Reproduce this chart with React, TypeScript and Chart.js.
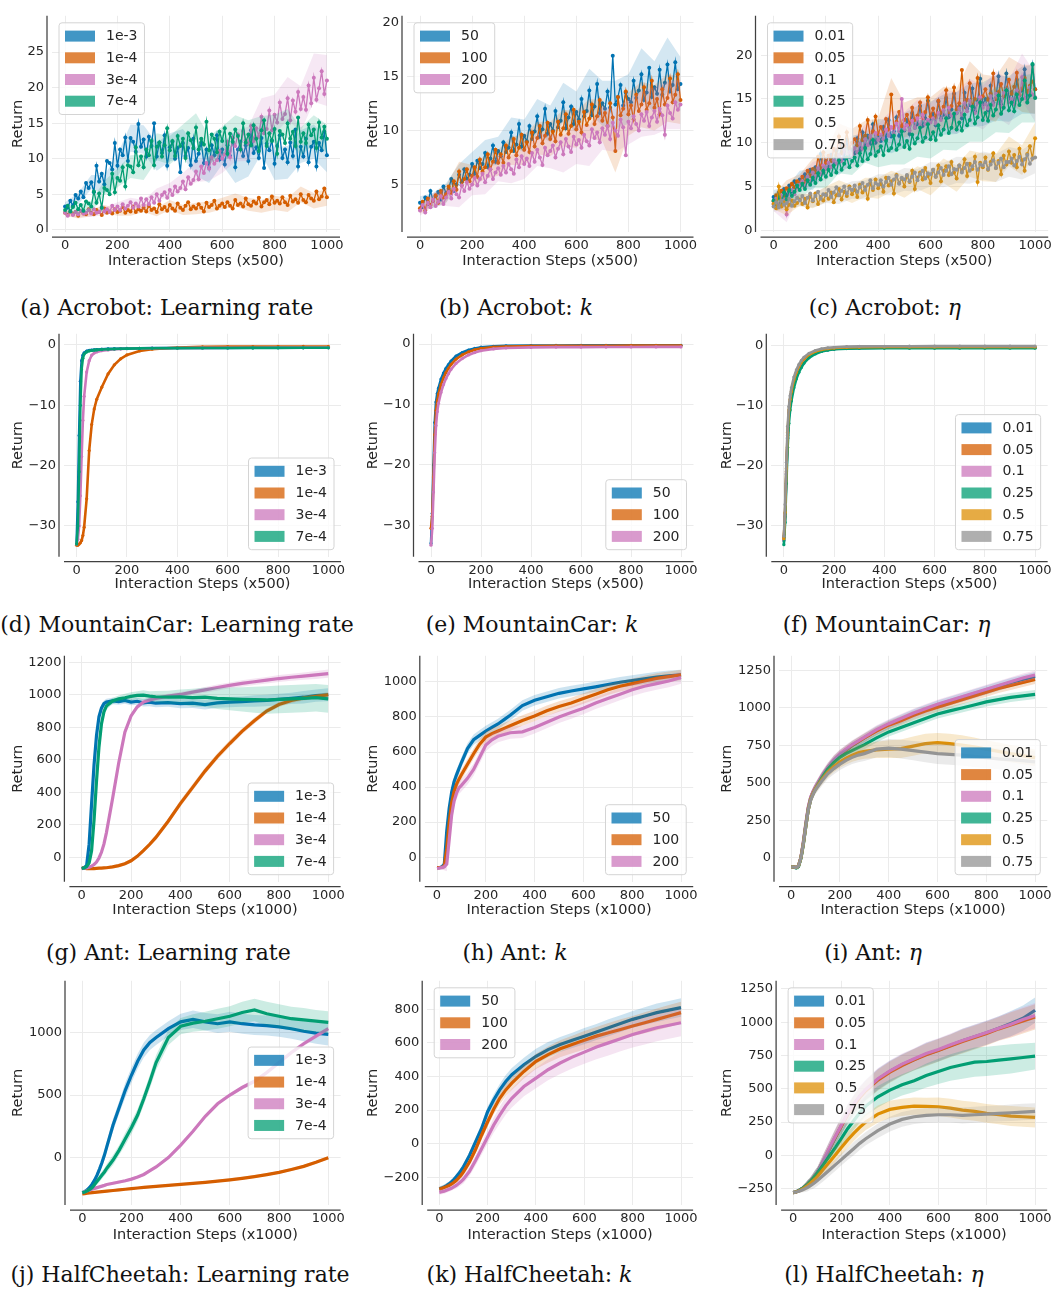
import React, { useEffect, useRef } from 'react';
import Chart from 'chart.js/auto';

// ---------- palette (seaborn colorblind) ----------
const BLUE = '#0173b2';
const VERM = '#d55e00';
const PINK = '#cc78bc';
const GREEN = '#029e73';
const ORANGE = '#de8f05';
const GRAY = '#949494';

// ---------- x grids ----------
const ACRO_X = [0,10,20,30,40,50,60,70,80,90,100,110,120,130,140,150,160,170,180,190,200,210,220,230,240,250,260,270,280,290,300,310,320,330,340,350,360,370,380,390,400,410,420,430,440,450,460,470,480,490,500,510,520,530,540,550,560,570,580,590,600,610,620,630,640,650,660,670,680,690,700,710,720,730,740,750,760,770,780,790,800,810,820,830,840,850,860,870,880,890,900,910,920,930,940,950,960,970,980,990,1000];
const MC_X = [0,5,10,15,20,25,30,40,50,60,70,80,100,125,150,175,200,250,300,400,500,600,700,800,900,1000];
const MJ_X = [0,10,20,30,40,50,60,70,80,90,100,125,150,175,200,225,250,275,300,350,400,450,500,550,600,650,700,750,800,850,900,950,1000];

// ---------- ticks ----------
const X_TICKS = [0,200,400,600,800,1000];
const Y_TICKS_A = [0,5,10,15,20,25];
const Y_TICKS_B = [5,10,15,20];
const Y_TICKS_C = [0,5,10,15,20];
const Y_TICKS_MC = [-30,-20,-10,0];
const Y_TICKS_G = [0,200,400,600,800,1000,1200];
const Y_TICKS_H = [0,200,400,600,800,1000];
const Y_TICKS_I = [0,250,500,750,1000,1250];
const Y_TICKS_J = [0,500,1000];
const Y_TICKS_K = [-200,0,200,400,600,800];
const Y_TICKS_L = [-250,0,250,500,750,1000,1250];

// ---------- labels ----------
const LR_LABELS = ['1e-3','1e-4','3e-4','7e-4'];
const K_LABELS = ['50','100','200'];
const ETA_LABELS = ['0.01','0.05','0.1','0.25','0.5','0.75'];
const X_TITLE_500 = 'Interaction Steps (x500)';
const X_TITLE_1000 = 'Interaction Steps (x1000)';
const Y_TITLE = 'Return';

// ---------- (a) Acrobot: learning rate ----------
const A_1E3 = [3.3,3.1,4.1,3.4,4.9,4.4,5.4,4.6,6.6,5.9,6.7,5.3,9.0,6.8,7.9,6.4,9.7,9.4,8.5,12.2,9.0,11.3,10.5,13.0,9.7,12.9,12.4,11.0,14.9,11.7,12.7,10.3,13.1,11.8,15.0,10.3,12.3,10.8,13.3,9.0,11.6,12.4,10.0,11.5,8.1,12.2,10.4,11.5,9.1,12.8,9.7,10.7,12.3,9.4,11.3,8.7,11.9,10.5,13.3,9.9,11.3,9.2,11.9,10.4,12.9,8.8,11.3,12.4,10.4,11.9,9.7,14.0,10.8,11.6,10.1,12.9,8.7,12.1,11.2,12.6,9.3,11.8,13.3,10.1,11.3,9.5,12.3,10.4,14.1,8.9,11.7,10.3,12.8,9.5,11.7,12.4,8.9,12.2,11.2,13.8,10.5];
const A_1E4 = [2.4,2.1,2.6,2.2,2.5,2.0,2.7,2.3,2.2,2.9,2.4,2.2,2.8,2.5,2.1,3.0,2.4,2.6,2.3,2.9,2.5,2.7,3.2,2.4,2.8,2.6,3.3,2.5,2.9,2.7,3.1,2.6,3.4,2.8,3.0,2.5,3.6,2.9,3.2,2.7,3.5,3.0,2.7,3.7,3.1,2.8,3.4,3.9,2.9,3.3,3.0,3.6,3.1,2.6,3.8,3.2,3.5,4.1,3.0,3.4,3.7,3.2,3.9,3.4,3.0,4.2,3.5,3.7,3.3,4.4,3.6,3.4,4.0,3.7,4.5,3.3,3.9,4.2,3.6,4.7,3.8,4.1,3.7,4.6,3.9,3.5,4.8,4.0,4.3,3.8,5.0,4.2,3.9,4.9,4.4,4.1,5.4,4.3,4.7,5.8,4.6];
const A_3E4 = [2.4,2.0,2.6,2.1,2.5,2.2,2.7,2.3,2.4,2.8,2.3,2.9,2.4,2.5,3.2,2.6,2.9,2.5,3.4,2.8,3.3,2.8,3.6,3.0,3.4,3.9,3.1,3.7,3.3,4.4,3.5,4.3,3.6,4.6,3.8,5.0,4.1,4.9,5.3,4.5,5.6,4.9,6.1,5.4,5.9,6.8,5.7,7.4,6.5,7.0,8.2,7.1,8.9,8.0,9.4,8.6,10.2,9.3,9.8,11.1,10.0,10.6,12.4,10.2,12.9,11.8,13.4,11.3,13.9,12.6,12.1,14.6,12.5,14.3,13.1,15.9,13.6,14.2,16.8,14.0,16.2,15.1,17.9,15.6,16.3,18.5,15.4,18.2,16.6,19.4,17.0,18.7,16.9,20.3,17.8,21.4,18.3,19.9,22.3,19.1,21.0];
const A_7E4 = [2.8,3.4,2.6,3.2,3.8,2.9,3.5,2.7,4.0,3.7,3.3,5.4,3.8,5.1,3.1,5.9,5.6,5.0,7.9,5.3,7.3,6.9,8.8,6.1,9.1,8.9,8.1,11.6,9.1,10.3,8.8,11.3,10.5,12.5,9.1,11.7,12.3,10.3,11.9,14.3,11.2,12.5,10.4,13.2,11.8,12.8,10.1,13.6,12.6,11.5,14.4,11.3,12.8,12.0,15.2,11.2,13.4,12.8,10.9,13.8,12.5,14.3,10.7,13.5,12.4,14.1,13.2,11.3,15.0,12.3,13.4,11.9,14.7,12.8,11.1,14.0,15.4,11.8,13.6,12.5,14.2,10.7,13.9,13.4,12.2,15.0,12.8,13.8,11.8,15.8,12.4,13.6,12.2,14.8,13.3,14.1,11.5,15.1,13.0,14.5,12.8];
const A_1E3_SD = [0.6,0.8,1.0,1.3,1.6,1.9,2.0,2.0,2.0,2.0,2.1,2.1,2.1,2.2,2.2,2.2,2.3,2.3,2.3,2.4,2.4];
const A_1E4_SD = [0.4,0.4,0.5,0.5,0.5,0.6,0.6,0.6,0.7,0.7,0.8,0.8,0.8,0.9,0.9,0.9,1.0,1.0,1.1,1.1,1.2];
const A_3E4_SD = [0.4,0.4,0.5,0.5,0.6,0.6,0.7,0.8,1.0,1.2,1.5,1.7,2.0,2.2,2.4,2.6,2.8,3.0,3.2,3.4,3.6];
const A_7E4_SD = [0.5,0.6,0.8,1.0,1.3,1.6,1.8,1.9,2.0,2.0,2.0,2.0,2.0,2.0,2.0,2.0,2.0,2.0,2.0,2.0,2.0];

// ---------- (b) Acrobot: k ----------
const B_50 = [3.3,2.9,3.8,3.2,4.4,3.5,3.9,4.3,3.6,4.8,4.2,4.6,5.5,4.4,5.0,5.9,5.2,6.4,5.5,5.9,6.9,6.0,7.2,6.5,6.9,7.9,6.6,7.4,8.6,7.1,8.1,7.6,8.9,8.0,8.4,9.8,8.1,8.7,10.6,8.5,9.5,9.0,10.4,9.2,9.9,11.3,9.4,10.1,12.0,9.7,10.6,10.0,11.8,10.3,10.9,12.6,10.2,11.2,12.2,10.6,11.7,11.0,12.9,11.3,11.8,13.7,11.4,12.2,14.3,11.6,12.5,12.0,13.6,12.1,16.9,12.4,13.1,14.2,12.3,13.5,12.9,12.6,14.6,13.0,13.7,15.2,12.8,13.5,15.8,13.1,14.0,13.4,15.6,13.3,14.4,16.1,13.6,14.2,16.3,13.8,14.3];
const B_100 = [2.8,3.4,2.6,3.7,3.1,3.5,4.0,3.3,4.4,3.8,4.1,4.8,4.2,5.3,4.5,6.2,4.9,5.5,6.4,5.3,5.8,6.6,5.7,7.3,6.2,6.6,7.8,6.4,7.1,8.2,7.0,7.8,7.0,8.6,7.5,8.1,9.2,7.7,8.4,9.6,8.2,8.9,8.0,9.8,8.5,9.3,10.4,8.8,9.5,10.7,9.2,9.9,9.0,10.8,9.6,10.2,11.5,9.7,10.4,11.9,10.1,10.8,9.8,11.7,10.5,11.1,12.4,10.6,11.3,12.8,10.9,11.6,10.4,12.5,11.2,8.1,13.1,11.4,12.0,13.6,11.5,12.3,11.0,13.3,11.8,12.4,14.0,11.9,12.5,14.6,12.1,12.9,11.5,13.8,12.4,13.0,14.8,12.6,13.3,15.2,12.8];
const B_200 = [2.6,3.1,2.4,3.3,2.9,3.6,3.0,3.4,3.9,3.2,3.8,4.3,3.7,4.6,4.1,3.8,4.9,4.4,5.2,4.6,5.0,5.6,4.9,5.5,6.0,5.2,5.8,6.4,5.5,6.1,6.5,5.9,6.7,6.1,6.9,6.4,6.0,7.3,6.6,7.6,6.9,7.4,6.7,7.9,7.1,8.2,7.5,6.8,8.4,7.7,8.1,8.6,7.5,8.3,8.9,7.8,9.2,8.5,8.0,9.4,8.7,9.1,8.4,9.6,9.0,8.6,10.1,9.3,9.8,8.9,10.2,9.6,10.4,9.2,10.7,10.0,9.5,11.0,10.3,7.7,10.8,10.2,11.3,10.6,10.0,11.5,10.9,11.7,10.4,11.2,11.8,10.8,12.0,11.4,9.6,12.3,11.6,11.1,12.6,11.9,12.4];
const B_50_SD = [0.6,0.7,0.9,1.0,1.1,1.2,1.3,1.4,1.5,1.6,1.7,1.8,1.9,2.0,2.1,2.2,2.3,2.4,2.4,2.5,2.5];
const B_100_SD = [0.5,0.6,0.8,0.9,1.0,1.1,1.2,1.3,1.4,1.5,1.6,1.7,1.7,1.8,1.9,2.0,2.0,2.1,2.1,2.2,2.2];
const B_200_SD = [0.5,0.6,0.8,0.9,1.0,1.1,1.2,1.3,1.4,1.5,1.6,1.7,1.8,1.9,2.0,2.0,2.1,2.1,2.2,2.2,2.3];

// ---------- (c) Acrobot: eta ----------
const C_001 = [3.8,3.1,4.3,3.6,4.7,4.0,5.1,4.4,5.6,4.9,5.8,5.2,6.4,5.6,6.9,5.8,7.2,6.3,8.7,6.6,7.9,7.3,8.6,7.5,9.1,7.8,9.6,8.2,10.3,8.4,9.2,8.8,10.5,9.1,11.2,9.4,10.8,9.9,12.1,10.0,10.9,10.2,11.8,10.4,12.6,10.7,11.3,12.9,10.8,11.9,11.4,12.6,11.0,13.4,11.7,12.1,14.2,11.9,12.8,14.8,12.5,13.3,12.0,14.7,12.8,13.2,15.1,12.9,13.8,15.6,13.4,14.1,12.8,15.7,13.9,14.3,16.2,13.6,14.7,17.3,14.4,15.0,13.7,16.5,14.6,15.1,17.6,14.4,15.3,17.9,15.0,15.8,14.5,17.2,15.4,16.0,18.4,15.2,16.3,18.9,16.1];
const C_005 = [3.3,4.0,3.7,4.5,3.9,4.8,4.6,5.3,4.9,5.6,5.4,6.1,5.5,6.8,6.2,7.0,6.6,8.4,7.1,8.9,7.7,8.5,7.9,9.3,8.6,10.7,8.8,9.6,11.2,9.4,10.0,10.4,9.7,11.9,10.3,10.8,12.6,10.6,11.3,13.0,11.0,11.8,10.9,12.7,11.5,15.5,11.7,12.4,13.5,11.9,12.6,13.2,12.1,14.0,12.6,13.1,14.6,12.8,13.5,15.2,13.0,13.9,12.9,14.8,13.4,14.1,16.0,13.5,14.2,16.3,13.8,14.5,18.3,14.1,14.9,16.8,14.2,15.0,17.4,14.6,15.3,16.1,14.9,15.6,17.9,15.0,15.8,16.7,15.3,16.2,17.2,15.6,16.4,18.0,15.5,16.2,17.4,15.8,16.5,17.0,16.1];
const C_01 = [3.0,3.6,2.8,4.0,3.5,1.8,4.2,4.6,4.1,5.0,5.2,5.6,5.0,6.1,5.5,6.6,6.0,7.1,6.4,7.4,7.0,7.7,7.2,8.0,7.6,8.6,7.9,9.2,8.3,8.9,8.6,9.4,8.9,9.9,9.3,10.4,9.7,10.8,10.0,11.1,10.3,10.9,10.4,11.5,10.8,11.8,11.0,12.2,11.3,15.0,11.5,12.0,11.4,12.5,11.7,12.8,11.9,13.2,12.1,12.6,12.3,12.8,12.2,13.4,12.6,13.7,12.9,14.0,13.1,12.7,13.4,13.9,13.2,14.5,13.6,14.8,13.8,13.4,14.5,15.2,14.0,14.4,13.9,15.3,14.3,15.6,14.5,14.1,15.7,16.1,14.6,15.0,14.4,16.0,14.9,17.5,15.1,14.7,16.3,15.5,15.2];
const C_025 = [3.4,2.9,3.8,3.1,4.3,3.5,4.6,3.9,4.4,5.1,4.6,5.3,4.7,5.7,5.2,6.0,5.4,6.5,5.8,6.8,6.1,6.9,6.3,7.4,6.6,8.0,6.9,7.6,8.3,7.2,7.9,8.3,7.4,8.8,7.9,9.4,8.1,8.7,10.3,8.5,9.0,9.6,8.6,10.2,9.1,9.4,10.8,9.2,9.8,11.3,9.5,10.2,9.3,10.9,9.9,10.5,11.7,10.1,10.6,12.1,10.4,11.2,10.3,12.0,10.9,11.5,12.8,11.1,11.7,13.3,11.5,12.3,11.4,13.2,12.0,12.6,14.1,12.2,12.9,14.6,12.6,13.4,12.5,14.3,13.1,13.8,15.4,13.3,14.0,16.0,13.7,14.6,13.6,15.5,14.3,15.0,17.1,14.6,15.4,19.0,15.1];
const C_05 = [3.0,2.5,5.0,2.7,3.2,2.4,2.9,3.4,2.8,3.1,3.5,3.0,3.6,2.6,3.9,3.3,4.2,3.0,3.8,3.4,4.1,3.6,4.3,3.2,4.0,4.7,3.5,4.4,3.9,5.0,4.1,4.6,3.8,5.2,4.3,4.9,3.6,5.4,4.6,5.8,4.8,5.3,4.4,6.0,5.1,5.6,4.2,6.3,5.4,5.9,5.0,6.2,5.5,6.8,4.7,6.0,6.6,5.8,7.1,6.2,5.4,6.9,6.1,7.4,5.6,6.8,7.3,6.3,7.8,6.6,5.9,7.4,6.8,8.1,6.2,7.6,7.0,8.4,5.5,7.7,7.2,8.3,6.9,7.8,8.8,7.1,7.9,6.4,8.5,7.5,9.0,7.7,8.6,7.2,9.3,8.0,6.8,8.7,9.6,8.2,10.5];
const C_075 = [2.7,3.2,2.6,3.4,2.9,3.1,3.6,2.8,3.3,3.7,3.4,3.9,3.1,3.7,4.2,3.4,3.9,4.4,3.6,4.1,4.0,4.6,3.8,4.3,4.9,4.0,4.5,5.0,4.2,4.8,4.6,5.1,4.4,4.9,5.4,4.6,5.2,5.7,4.8,5.4,5.2,5.7,5.0,5.5,6.0,5.2,5.8,6.2,5.3,6.0,5.8,6.3,5.6,6.1,6.6,5.7,6.4,6.8,5.9,6.5,6.4,6.9,6.1,6.6,7.1,6.3,6.8,7.3,6.4,7.0,6.9,7.4,6.6,7.1,7.6,6.8,7.3,7.8,6.9,7.5,7.4,7.8,7.0,7.5,8.0,7.1,7.7,8.2,7.2,7.8,7.8,8.2,7.4,7.9,8.4,7.5,8.1,8.6,7.6,8.2,8.3];
const C_HI_SD = [0.8,0.9,1.0,1.2,1.3,1.5,1.6,1.7,1.8,1.9,2.0,2.1,2.2,2.3,2.4,2.5,2.5,2.6,2.6,2.7,2.8];
const C_LO_SD = [0.6,0.7,0.7,0.8,0.9,1.0,1.0,1.1,1.2,1.2,1.3,1.3,1.4,1.4,1.5,1.5,1.6,1.6,1.7,1.7,1.8];

// ---------- (d) MountainCar: learning rate ----------
const D_1E3 = [-33.0,-26.0,-15.0,-6.0,-2.6,-1.7,-1.3,-1.0,-0.9,-0.85,-0.8,-0.75,-0.7,-0.65,-0.62,-0.6,-0.58,-0.55,-0.53,-0.5,-0.5,-0.48,-0.47,-0.46,-0.45,-0.45];
const D_1E4 = [-33.2,-33.2,-33.0,-32.8,-32.4,-31.6,-30.2,-25.5,-17.5,-13.2,-10.6,-9.0,-7.0,-4.8,-3.3,-2.3,-1.65,-1.0,-0.7,-0.42,-0.32,-0.28,-0.26,-0.25,-0.25,-0.25];
const D_3E4 = [-33.0,-32.2,-30.0,-25.0,-18.5,-12.5,-8.5,-4.5,-2.6,-1.7,-1.35,-1.15,-0.95,-0.82,-0.72,-0.66,-0.62,-0.57,-0.54,-0.5,-0.48,-0.47,-0.46,-0.45,-0.45,-0.44];
const D_7E4 = [-33.0,-30.0,-21.0,-10.0,-4.0,-2.2,-1.5,-1.15,-1.0,-0.92,-0.86,-0.82,-0.76,-0.7,-0.66,-0.63,-0.6,-0.57,-0.55,-0.52,-0.5,-0.5,-0.49,-0.48,-0.47,-0.47];

// ---------- (e) MountainCar: k ----------
const E_50 = [-33.0,-28.0,-20.0,-13.0,-9.6,-8.2,-7.3,-5.8,-4.8,-4.0,-3.4,-2.8,-2.0,-1.4,-1.0,-0.72,-0.52,-0.36,-0.3,-0.25,-0.23,-0.22,-0.21,-0.2,-0.2,-0.2];
const E_100 = [-30.5,-28.5,-22.0,-15.0,-11.0,-9.4,-8.3,-6.7,-5.6,-4.7,-4.0,-3.4,-2.5,-1.8,-1.3,-0.95,-0.72,-0.5,-0.4,-0.32,-0.3,-0.28,-0.27,-0.26,-0.25,-0.25];
const E_200 = [-33.3,-30.5,-24.5,-18.0,-13.5,-11.2,-9.8,-8.0,-6.7,-5.7,-4.9,-4.2,-3.2,-2.4,-1.8,-1.4,-1.1,-0.8,-0.65,-0.55,-0.5,-0.5,-0.49,-0.48,-0.47,-0.47];

// ---------- (f) MountainCar: eta ----------
const F_001 = [-32.5,-28.5,-21.5,-15.5,-11.5,-9.6,-8.2,-6.3,-5.0,-4.0,-3.3,-2.7,-1.9,-1.3,-0.95,-0.75,-0.62,-0.5,-0.45,-0.42,-0.41,-0.4,-0.4,-0.4,-0.4,-0.4];
const F_005 = [-32.0,-28.0,-21.0,-15.0,-11.2,-9.3,-8.0,-6.1,-4.8,-3.8,-3.1,-2.5,-1.75,-1.2,-0.88,-0.7,-0.58,-0.48,-0.43,-0.4,-0.4,-0.39,-0.39,-0.38,-0.38,-0.38];
const F_01 = [-32.5,-28.3,-21.3,-15.3,-11.4,-9.5,-8.1,-6.2,-4.9,-3.9,-3.2,-2.6,-1.85,-1.25,-0.92,-0.72,-0.6,-0.49,-0.44,-0.41,-0.4,-0.4,-0.4,-0.39,-0.39,-0.39];
const F_025 = [-33.2,-29.5,-23.0,-17.0,-13.0,-10.8,-9.3,-7.1,-5.6,-4.5,-3.7,-3.0,-2.1,-1.45,-1.05,-0.82,-0.68,-0.56,-0.52,-0.5,-0.5,-0.5,-0.5,-0.5,-0.5,-0.5];
const F_05 = [-32.2,-27.8,-20.5,-14.5,-10.8,-9.0,-7.7,-5.8,-4.5,-3.5,-2.8,-2.3,-1.55,-1.05,-0.75,-0.58,-0.47,-0.38,-0.33,-0.3,-0.3,-0.29,-0.29,-0.28,-0.28,-0.28];
const F_075 = [-31.8,-26.5,-19.5,-13.5,-10.2,-8.4,-7.1,-5.3,-4.1,-3.2,-2.5,-2.0,-1.35,-0.88,-0.6,-0.44,-0.34,-0.24,-0.2,-0.17,-0.16,-0.15,-0.15,-0.15,-0.15,-0.15];

// ---------- (g) Ant: learning rate ----------
const G_1E3 = [-70,-65,-50,80,330,570,750,865,918,945,955,962,958,965,955,960,950,955,948,952,945,948,940,950,955,958,962,965,972,978,985,995,1000];
const G_1E4 = [-65,-68,-70,-70,-70,-70,-69,-68,-67,-66,-65,-60,-52,-40,-22,5,40,78,120,220,330,430,530,620,700,775,840,900,940,965,980,990,1000];
const G_3E4 = [-70,-68,-66,-62,-55,-45,-30,-5,30,80,150,360,580,770,870,925,955,968,978,992,1002,1016,1030,1045,1058,1070,1080,1090,1100,1108,1115,1122,1130];
const G_7E4 = [-70,-66,-58,-35,40,230,470,680,820,895,930,962,975,982,990,996,998,992,988,985,987,982,985,978,975,972,970,968,972,975,978,982,975];
const G_1E3_SD = [8,8,10,30,50,50,40,30,25,20,20,20,20,20,20,22,22,25,25,25,28,30,30,30,32,32,35,35,35,35,38,38,40];
const G_1E4_SD = [8,8,8,8,8,8,8,8,8,8,8,10,10,10,12,12,14,15,16,18,20,20,20,20,20,18,18,16,16,15,15,15,15];
const G_3E4_SD = [6,6,6,8,8,10,10,12,15,20,25,25,25,20,18,15,15,15,15,15,15,15,18,18,18,20,20,20,22,22,22,25,25];
const G_7E4_SD = [8,8,10,20,40,50,50,40,30,25,20,20,20,25,25,25,30,30,35,40,45,55,60,65,70,75,80,85,85,85,85,85,85];

// ---------- (h) Ant: k ----------
const H_50 = [-60,-60,-55,-40,150,280,370,430,470,505,540,620,670,695,720,740,760,785,810,865,895,915,935,948,960,972,985,998,1008,1018,1028,1035,1040];
const H_100 = [-60,-60,-58,-50,50,200,310,375,415,445,470,530,590,645,685,705,720,735,750,780,805,835,860,880,905,930,955,975,990,1005,1020,1030,1040];
const H_200 = [-65,-62,-60,-55,-40,100,240,320,365,395,410,450,500,570,640,670,690,700,710,715,740,770,800,825,850,880,905,930,955,975,990,1005,1025];
const H_SD = [8,8,10,20,40,40,35,30,30,30,30,30,30,30,30,30,30,30,30,30,30,30,30,30,30,30,30,30,30,30,30,30,30];
const H_200_SD = [10,10,12,20,40,45,40,35,35,35,35,35,35,35,35,35,35,35,35,35,35,35,35,35,35,35,35,35,35,35,35,35,35];

// ---------- (i) Ant: eta ----------
const I_001 = [-60,-62,-65,-55,0,100,220,330,400,440,470,540,600,650,690,720,750,775,800,850,890,925,960,990,1020,1045,1070,1095,1120,1145,1170,1190,1210];
const I_005 = [-60,-62,-65,-55,0,100,220,330,400,440,470,540,600,650,690,720,750,775,800,845,885,915,950,980,1005,1030,1055,1080,1105,1130,1150,1170,1190];
const I_01 = [-60,-62,-65,-55,5,110,230,340,405,445,475,545,605,655,695,725,755,780,805,855,895,930,965,995,1025,1050,1075,1100,1125,1150,1175,1200,1220];
const I_025 = [-60,-62,-68,-60,-5,90,210,320,390,430,460,530,590,635,670,695,715,735,755,800,840,870,900,930,960,980,1000,1020,1040,1055,1070,1080,1090];
const I_05 = [-60,-62,-65,-55,0,95,210,320,390,430,460,520,570,610,640,665,685,700,710,720,725,728,745,762,768,762,752,740,725,710,695,682,668];
const I_075 = [-60,-62,-65,-55,0,95,210,320,385,425,455,510,560,595,625,650,670,685,695,725,732,725,715,705,695,690,685,675,668,660,655,648,640];
const I_HI_SD = [8,8,10,20,30,35,35,30,30,30,30,30,30,30,30,30,30,30,30,30,30,30,30,30,30,30,30,30,30,30,30,30,30];
const I_05_SD = [8,8,10,20,30,35,35,30,30,30,30,32,35,38,40,42,45,48,50,55,60,62,65,65,65,65,65,62,60,60,58,58,55];
const I_075_SD = [8,8,10,20,30,35,35,30,30,30,30,32,35,38,40,42,45,48,50,55,60,62,65,68,70,70,70,70,70,70,70,70,70];

// ---------- (j) HalfCheetah: learning rate ----------
const J_1E3 = [-280,-272,-258,-238,-212,-180,-140,-92,-40,20,90,260,400,540,660,770,860,920,960,1030,1085,1105,1085,1070,1085,1070,1060,1055,1045,1030,1010,995,985];
const J_1E4 = [-290,-288,-285,-282,-280,-278,-276,-274,-272,-270,-268,-263,-258,-253,-248,-243,-238,-234,-230,-222,-214,-206,-198,-188,-178,-166,-152,-136,-118,-95,-70,-38,-2];
const J_3E4 = [-280,-272,-265,-258,-252,-246,-240,-234,-228,-222,-215,-205,-195,-185,-172,-155,-135,-105,-75,0,100,210,330,430,500,560,610,680,760,840,910,970,1030];
const J_7E4 = [-280,-275,-266,-254,-240,-215,-190,-165,-140,-115,-85,-20,60,150,240,340,470,610,760,960,1050,1075,1090,1110,1130,1160,1180,1150,1130,1110,1100,1090,1080];
const J_1E3_SD = [10,10,12,15,20,25,30,30,35,40,40,50,50,60,60,60,60,60,60,60,65,70,70,75,80,80,80,80,80,80,80,85,90];
const J_1E4_SD = [10,10,10,10,10,10,10,10,10,10,10,10,10,10,10,10,10,10,10,10,10,10,10,10,12,12,12,12,12,12,12,12,12];
const J_3E4_SD = [10,10,10,10,10,10,10,10,10,10,10,12,12,12,12,12,12,14,14,14,15,15,16,16,16,16,18,18,18,18,18,18,18];
const J_7E4_SD = [10,10,12,15,20,25,25,30,30,30,35,40,40,50,50,50,50,55,60,60,65,70,75,80,80,85,90,95,95,95,95,90,90];

// ---------- (k) HalfCheetah: k ----------
const K_50 = [-270,-265,-258,-250,-240,-228,-214,-198,-180,-160,-138,-70,10,90,190,260,320,370,410,470,520,560,590,615,640,665,690,715,740,760,780,795,810];
const K_100 = [-270,-267,-262,-256,-250,-242,-232,-220,-205,-188,-168,-110,-35,50,130,205,270,320,360,430,490,530,565,590,615,640,660,680,700,720,740,760,780];
const K_200 = [-290,-287,-283,-278,-272,-266,-258,-249,-238,-226,-212,-165,-100,-30,40,110,170,225,270,340,390,440,480,515,545,575,600,625,650,670,690,705,720];
const K_50_SD = [15,15,15,15,15,15,15,15,18,18,20,22,25,28,30,32,35,38,40,42,45,45,45,45,48,48,50,50,50,52,55,55,55];
const K_100_SD = [15,15,15,15,15,15,15,15,18,18,20,22,25,28,30,32,35,38,40,42,45,48,50,52,55,55,58,60,60,62,65,65,65];
const K_200_SD = [15,15,15,15,15,15,15,18,20,22,25,28,32,36,40,45,50,52,55,58,60,62,65,68,70,72,75,75,78,80,80,80,80];

// ---------- (l) HalfCheetah: eta ----------
const L_001 = [-280,-275,-268,-258,-246,-232,-215,-196,-175,-152,-128,-40,50,140,225,310,380,440,490,570,630,680,720,760,790,825,860,890,920,955,990,1030,1090];
const L_005 = [-280,-275,-268,-258,-246,-232,-215,-196,-175,-152,-128,-42,48,138,222,305,375,435,485,565,625,675,718,755,788,822,855,885,915,950,980,1010,1040];
const L_01 = [-280,-275,-268,-258,-246,-232,-215,-196,-175,-152,-128,-38,55,145,230,315,385,445,495,575,635,685,725,765,795,830,862,892,922,955,985,1020,1050];
const L_025 = [-280,-275,-268,-258,-246,-232,-216,-198,-178,-156,-132,-70,-5,60,130,200,260,320,370,440,490,530,560,600,630,660,680,700,705,715,725,735,745];
const L_05 = [-280,-276,-270,-262,-252,-240,-226,-211,-195,-178,-160,-105,-50,5,60,115,165,210,250,310,345,360,370,368,365,355,340,330,315,305,295,290,285];
const L_075 = [-280,-276,-271,-265,-258,-250,-240,-229,-217,-204,-190,-150,-110,-70,-30,10,50,90,125,185,235,270,290,300,305,305,300,305,310,315,320,325,330];
const L_HI_SD = [10,10,12,15,20,25,30,30,35,40,40,50,55,60,65,70,70,75,75,80,80,80,80,85,85,85,90,90,90,90,95,95,95];
const L_025_SD = [10,10,12,15,20,25,30,30,35,40,40,50,55,60,65,70,70,75,75,80,80,80,85,90,95,100,105,110,110,110,110,105,100];
const L_05_SD = [10,10,12,15,20,25,30,30,35,40,40,45,50,55,55,60,60,60,60,65,65,65,65,65,70,70,70,70,70,72,75,75,75];
const L_075_SD = [10,10,12,15,20,25,30,30,35,40,40,45,45,45,45,45,50,50,50,55,55,55,55,55,58,58,60,60,60,60,62,62,62];

// ---------- panel definitions (data) ----------
type Series = { label: string; color: string; y: number[]; sd?: number[] };
type PanelData = {
  key: string; kind: 'acro' | 'mc' | 'mj'; x: number[]; series: Series[];
  yTicks: number[]; yMin: number; yMax: number; xTitle: string;
  legend: 'ul' | 'lr' | 'cr'; cap: string; sym?: string;
};

const PANELS: PanelData[] = [
  { key: 'a', kind: 'acro', x: ACRO_X, yTicks: Y_TICKS_A, yMin: -0.3, yMax: 30.1, xTitle: X_TITLE_500, legend: 'ul', cap: '(a) Acrobot: Learning rate',
    series: [
      { label: LR_LABELS[0], color: BLUE, y: A_1E3, sd: A_1E3_SD },
      { label: LR_LABELS[1], color: VERM, y: A_1E4, sd: A_1E4_SD },
      { label: LR_LABELS[2], color: PINK, y: A_3E4, sd: A_3E4_SD },
      { label: LR_LABELS[3], color: GREEN, y: A_7E4, sd: A_7E4_SD },
    ] },
  { key: 'b', kind: 'acro', x: ACRO_X, yTicks: Y_TICKS_B, yMin: 0.6, yMax: 20.6, xTitle: X_TITLE_500, legend: 'ul', cap: '(b) Acrobot: ', sym: 'k',
    series: [
      { label: K_LABELS[0], color: BLUE, y: B_50, sd: B_50_SD },
      { label: K_LABELS[1], color: VERM, y: B_100, sd: B_100_SD },
      { label: K_LABELS[2], color: PINK, y: B_200, sd: B_200_SD },
    ] },
  { key: 'c', kind: 'acro', x: ACRO_X, yTicks: Y_TICKS_C, yMin: -0.2, yMax: 24.5, xTitle: X_TITLE_500, legend: 'ul', cap: '(c) Acrobot: ', sym: '\u03b7',
    series: [
      { label: ETA_LABELS[0], color: BLUE, y: C_001, sd: C_HI_SD },
      { label: ETA_LABELS[1], color: VERM, y: C_005, sd: C_HI_SD },
      { label: ETA_LABELS[2], color: PINK, y: C_01, sd: C_HI_SD },
      { label: ETA_LABELS[3], color: GREEN, y: C_025, sd: C_HI_SD },
      { label: ETA_LABELS[4], color: ORANGE, y: C_05, sd: C_LO_SD },
      { label: ETA_LABELS[5], color: GRAY, y: C_075, sd: C_LO_SD },
    ] },
  { key: 'd', kind: 'mc', x: MC_X, yTicks: Y_TICKS_MC, yMin: -35.1, yMax: 1.85, xTitle: X_TITLE_500, legend: 'lr', cap: '(d) MountainCar: Learning rate',
    series: [
      { label: LR_LABELS[0], color: BLUE, y: D_1E3 },
      { label: LR_LABELS[1], color: VERM, y: D_1E4 },
      { label: LR_LABELS[2], color: PINK, y: D_3E4 },
      { label: LR_LABELS[3], color: GREEN, y: D_7E4 },
    ] },
  { key: 'e', kind: 'mc', x: MC_X, yTicks: Y_TICKS_MC, yMin: -35.2, yMax: 1.7, xTitle: X_TITLE_500, legend: 'lr', cap: '(e) MountainCar: ', sym: 'k',
    series: [
      { label: K_LABELS[0], color: BLUE, y: E_50 },
      { label: K_LABELS[1], color: VERM, y: E_100 },
      { label: K_LABELS[2], color: PINK, y: E_200 },
    ] },
  { key: 'f', kind: 'mc', x: MC_X, yTicks: Y_TICKS_MC, yMin: -35.2, yMax: 1.9, xTitle: X_TITLE_500, legend: 'lr', cap: '(f) MountainCar: ', sym: '\u03b7',
    series: [
      { label: ETA_LABELS[0], color: BLUE, y: F_001 },
      { label: ETA_LABELS[1], color: VERM, y: F_005 },
      { label: ETA_LABELS[2], color: PINK, y: F_01 },
      { label: ETA_LABELS[3], color: GREEN, y: F_025 },
      { label: ETA_LABELS[4], color: ORANGE, y: F_05 },
      { label: ETA_LABELS[5], color: GRAY, y: F_075 },
    ] },
  { key: 'g', kind: 'mj', x: MJ_X, yTicks: Y_TICKS_G, yMin: -151, yMax: 1240, xTitle: X_TITLE_1000, legend: 'lr', cap: '(g) Ant: Learning rate',
    series: [
      { label: LR_LABELS[0], color: BLUE, y: G_1E3, sd: G_1E3_SD },
      { label: LR_LABELS[1], color: VERM, y: G_1E4, sd: G_1E4_SD },
      { label: LR_LABELS[2], color: PINK, y: G_3E4, sd: G_3E4_SD },
      { label: LR_LABELS[3], color: GREEN, y: G_7E4, sd: G_7E4_SD },
    ] },
  { key: 'h', kind: 'mj', x: MJ_X, yTicks: Y_TICKS_H, yMin: -140, yMax: 1149, xTitle: X_TITLE_1000, legend: 'lr', cap: '(h) Ant: ', sym: 'k',
    series: [
      { label: K_LABELS[0], color: BLUE, y: H_50, sd: H_SD },
      { label: K_LABELS[1], color: VERM, y: H_100, sd: H_SD },
      { label: K_LABELS[2], color: PINK, y: H_200, sd: H_200_SD },
    ] },
  { key: 'i', kind: 'mj', x: MJ_X, yTicks: Y_TICKS_I, yMin: -160, yMax: 1348, xTitle: X_TITLE_1000, legend: 'lr', cap: '(i) Ant: ', sym: '\u03b7',
    series: [
      { label: ETA_LABELS[0], color: BLUE, y: I_001, sd: I_HI_SD },
      { label: ETA_LABELS[1], color: VERM, y: I_005, sd: I_HI_SD },
      { label: ETA_LABELS[2], color: PINK, y: I_01, sd: I_HI_SD },
      { label: ETA_LABELS[3], color: GREEN, y: I_025, sd: I_HI_SD },
      { label: ETA_LABELS[4], color: ORANGE, y: I_05, sd: I_05_SD },
      { label: ETA_LABELS[5], color: GRAY, y: I_075, sd: I_075_SD },
    ] },
  { key: 'j', kind: 'mj', x: MJ_X, yTicks: Y_TICKS_J, yMin: -379, yMax: 1413, xTitle: X_TITLE_1000, legend: 'cr', cap: '(j) HalfCheetah: Learning rate',
    series: [
      { label: LR_LABELS[0], color: BLUE, y: J_1E3, sd: J_1E3_SD },
      { label: LR_LABELS[1], color: VERM, y: J_1E4, sd: J_1E4_SD },
      { label: LR_LABELS[2], color: PINK, y: J_3E4, sd: J_3E4_SD },
      { label: LR_LABELS[3], color: GREEN, y: J_7E4, sd: J_7E4_SD },
    ] },
  { key: 'k', kind: 'mj', x: MJ_X, yTicks: Y_TICKS_K, yMin: -365.5, yMax: 969.6, xTitle: X_TITLE_1000, legend: 'ul', cap: '(k) HalfCheetah: ', sym: 'k',
    series: [
      { label: K_LABELS[0], color: BLUE, y: K_50, sd: K_50_SD },
      { label: K_LABELS[1], color: VERM, y: K_100, sd: K_100_SD },
      { label: K_LABELS[2], color: PINK, y: K_200, sd: K_200_SD },
    ] },
  { key: 'l', kind: 'mj', x: MJ_X, yTicks: Y_TICKS_L, yMin: -373, yMax: 1311, xTitle: X_TITLE_1000, legend: 'ul', cap: '(l) HalfCheetah: ', sym: '\u03b7',
    series: [
      { label: ETA_LABELS[0], color: BLUE, y: L_001, sd: L_HI_SD },
      { label: ETA_LABELS[1], color: VERM, y: L_005, sd: L_HI_SD },
      { label: ETA_LABELS[2], color: PINK, y: L_01, sd: L_HI_SD },
      { label: ETA_LABELS[3], color: GREEN, y: L_025, sd: L_025_SD },
      { label: ETA_LABELS[4], color: ORANGE, y: L_05, sd: L_05_SD },
      { label: ETA_LABELS[5], color: GRAY, y: L_075, sd: L_075_SD },
    ] },
];

// ---------- layout (page pixels) ----------
type PanelLayout = { cx: number; cy: number; cw: number; ch: number; l: number; r: number; t: number; b: number; ytx: number; xty: number; capX: number; capY: number };
const COLS = [{ cx: 0, cw: 352, ytx: 18.3 }, { cx: 352, cw: 352, ytx: 373 }, { cx: 704, cw: 354, ytx: 727.3 }];
const ROWS = [
  { cy: 0, ch: 285, t: 3, b: 232, xty: 261.5, capY: 308 },
  { cy: 318, ch: 282, t: 326.7, b: 556.7, xty: 584, capY: 625 },
  { cy: 640, ch: 282, t: 651.7, b: 881.7, xty: 910, capY: 953 },
  { cy: 965, ch: 285, t: 976.7, b: 1205, xty: 1235, capY: 1275 },
];
const AREA_LR: Record<string, [number, number, number]> = {
  a: [52, 340, 166.7], b: [407, 693.5, 516], c: [760.5, 1050.5, 884.8],
  d: [64, 341, 177], e: [418.5, 694.5, 532], f: [771.3, 1050, 886.5],
  g: [69.4, 340.6, 168.3], h: [424.8, 694.3, 515], i: [779, 1049.6, 873],
  j: [70, 340.6, 180], k: [427.2, 694.1, 529.5], l: [781.1, 1049.5, 884],
};
function layoutFor(idx: number, key: string): PanelLayout {
  const c = COLS[idx % 3];
  const r = ROWS[Math.floor(idx / 3)];
  const [l, rr, capX] = AREA_LR[key];
  return { cx: c.cx, cw: c.cw, ytx: c.ytx, cy: r.cy, ch: r.ch, t: r.t, b: r.b, xty: r.xty, capY: r.capY, l, r: rr, capX };
}

// ---------- styles ----------
const FONT = '"DejaVu Sans", sans-serif';
const TEXT = '#262626';
const GRID = '#ebebeb';
const SPINE = '#404040';
const STYLE = {
  acro: { lw: 1.3, pr: 2, band: 0.17 },
  mc: { lw: 2.6, pr: 1.6, band: 0.2 },
  mj: { lw: 3.2, pr: 0, band: 0.2 },
};
const TICK_SIZE = 13;
const TITLE_SIZE = 14.5;
const LEG_SIZE = 14;
const CAP_SIZE = 22;

Chart.defaults.font.family = FONT;

function rgba(hex: string, a: number) {
  const n = parseInt(hex.slice(1), 16);
  return `rgba(${(n >> 16) & 255},${(n >> 8) & 255},${n & 255},${a})`;
}
const fmt = (v: number) => (v < 0 ? '\u2212' + Math.abs(v) : String(v));

function Panel({ d, L }: { d: PanelData; L: PanelLayout }) {
  const ref = useRef<HTMLCanvasElement>(null);
  useEffect(() => {
    const cv = ref.current;
    if (!cv) return;
    const st = STYLE[d.kind];
    const datasets: any[] = [];
    const total = d.series.length * 3 + 2;
    let seq = 0;
    d.series.forEach((s) => {
      if (s.sd) {
        const step = (d.x.length - 1) / (s.sd.length - 1);
        const lo = s.sd.map((v, k) => { const i = Math.round(k * step); return { x: d.x[i], y: s.y[i] - v }; });
        const hi = s.sd.map((v, k) => { const i = Math.round(k * step); return { x: d.x[i], y: s.y[i] + v }; });
        datasets.push({ data: lo, borderWidth: 0, borderColor: 'rgba(0,0,0,0)', pointRadius: 0, fill: false, order: total - seq++ });
        datasets.push({ data: hi, borderWidth: 0, borderColor: 'rgba(0,0,0,0)', pointRadius: 0, fill: '-1', backgroundColor: rgba(s.color, st.band), order: total - seq++ });
      }
      datasets.push({
        data: d.x.map((x, i) => ({ x, y: s.y[i] })),
        borderColor: s.color, backgroundColor: s.color, borderWidth: st.lw,
        pointRadius: st.pr, pointBackgroundColor: s.color, pointBorderWidth: 0, pointHoverRadius: 0,
        fill: false, tension: 0, order: total - seq++,
      });
    });

    const decor = {
      id: 'decor',
      afterDraw(chart: any) {
        const { ctx, chartArea: a } = chart;
        ctx.save();
        ctx.strokeStyle = SPINE;
        ctx.lineWidth = 1.25;
        ctx.beginPath();
        ctx.moveTo(a.left - 5, a.top); ctx.lineTo(a.left - 5, a.bottom);
        ctx.moveTo(a.left, a.bottom + 5); ctx.lineTo(a.right, a.bottom + 5);
        ctx.stroke();
        // legend
        ctx.font = `${LEG_SIZE}px ${FONT}`;
        const labels = d.series.map((s) => s.label);
        const tw = Math.max(...labels.map((t) => ctx.measureText(t).width));
        const padL = 6, pw = 30, ph = 11, gap = 11, padR = 7, rowH = 21.7, padV = 13.3;
        const w = padL + pw + gap + tw + padR;
        const h = 2 * padV + (labels.length - 1) * rowH;
        let bx = a.left + 7, by = a.top + 7;
        if (d.legend === 'lr') { bx = a.right - 7 - w; by = a.bottom - 7 - h; }
        if (d.legend === 'cr') { bx = a.right - 7 - w; by = (a.top + a.bottom) / 2 - h / 2; }
        ctx.beginPath();
        ctx.roundRect(bx, by, w, h, 3);
        ctx.fillStyle = 'rgba(255,255,255,0.8)';
        ctx.fill();
        ctx.strokeStyle = '#d4d4d4';
        ctx.lineWidth = 1;
        ctx.stroke();
        ctx.textBaseline = 'middle';
        ctx.textAlign = 'left';
        d.series.forEach((s, i) => {
          const cy = by + padV + i * rowH;
          ctx.fillStyle = rgba(s.color, 0.75);
          ctx.fillRect(bx + padL, cy - ph / 2, pw, ph);
          ctx.fillStyle = TEXT;
          ctx.fillText(s.label, bx + padL + pw + gap, cy + 0.5);
        });
        ctx.restore();
      },
    };

    const chart = new Chart(cv, {
      type: 'line',
      data: { datasets },
      options: {
        animation: false,
        responsive: false,
        devicePixelRatio: 1,
        events: [],
        layout: { padding: { left: 0, top: L.t - L.cy, right: L.cx + L.cw - L.r, bottom: 0 } },
        plugins: { legend: { display: false }, tooltip: { enabled: false } },
        scales: {
          x: {
            type: 'linear', min: -50, max: 1050,
            afterBuildTicks: (s: any) => { s.ticks = X_TICKS.map((v) => ({ value: v })); },
            afterFit: (s: any) => { s.height = L.cy + L.ch - L.b; },
            grid: { color: GRID, lineWidth: 1, drawTicks: false },
            border: { display: false },
            ticks: { padding: 6, color: TEXT, font: { size: TICK_SIZE }, maxRotation: 0, autoSkip: false, callback: (v: any) => fmt(Number(v)) },
            title: { display: true, text: d.xTitle, color: TEXT, font: { size: TITLE_SIZE }, padding: { top: 0, bottom: L.cy + L.ch - L.xty - TITLE_SIZE * 0.6 } },
          },
          y: {
            type: 'linear', min: d.yMin, max: d.yMax,
            afterBuildTicks: (s: any) => { s.ticks = d.yTicks.map((v) => ({ value: v })); },
            afterFit: (s: any) => { s.width = L.l - L.cx; },
            grid: { color: GRID, lineWidth: 1, drawTicks: false },
            border: { display: false },
            ticks: { padding: 8, color: TEXT, font: { size: TICK_SIZE }, autoSkip: false, callback: (v: any) => fmt(Number(v)) },
            title: { display: true, text: Y_TITLE, color: TEXT, font: { size: TITLE_SIZE }, padding: { top: L.ytx - L.cx - TITLE_SIZE * 0.6, bottom: 0 } },
          },
        },
      } as any,
      plugins: [decor],
    });
    return () => chart.destroy();
  }, [d, L]);

  return (
    <>
      <canvas ref={ref} width={L.cw} height={L.ch}
        style={{ position: 'absolute', left: L.cx, top: L.cy, width: L.cw, height: L.ch }} />
      <div style={{
        position: 'absolute', left: L.capX, top: L.capY, transform: 'translate(-50%, -50%)',
        fontFamily: '"DejaVu Serif", serif', fontSize: CAP_SIZE, lineHeight: 1, whiteSpace: 'nowrap', color: '#111',
      }}>
        {d.cap}{d.sym ? <i>{d.sym}</i> : null}
      </div>
    </>
  );
}

const LAYOUTS = PANELS.map((p, i) => layoutFor(i, p.key));

export default function App() {
  return (
    <div style={{ position: 'absolute', left: 0, top: 0, width: 1058, height: 1291, background: '#fff', overflow: 'hidden' }}>
      {PANELS.map((p, i) => <Panel key={p.key} d={p} L={LAYOUTS[i]} />)}
    </div>
  );
}
